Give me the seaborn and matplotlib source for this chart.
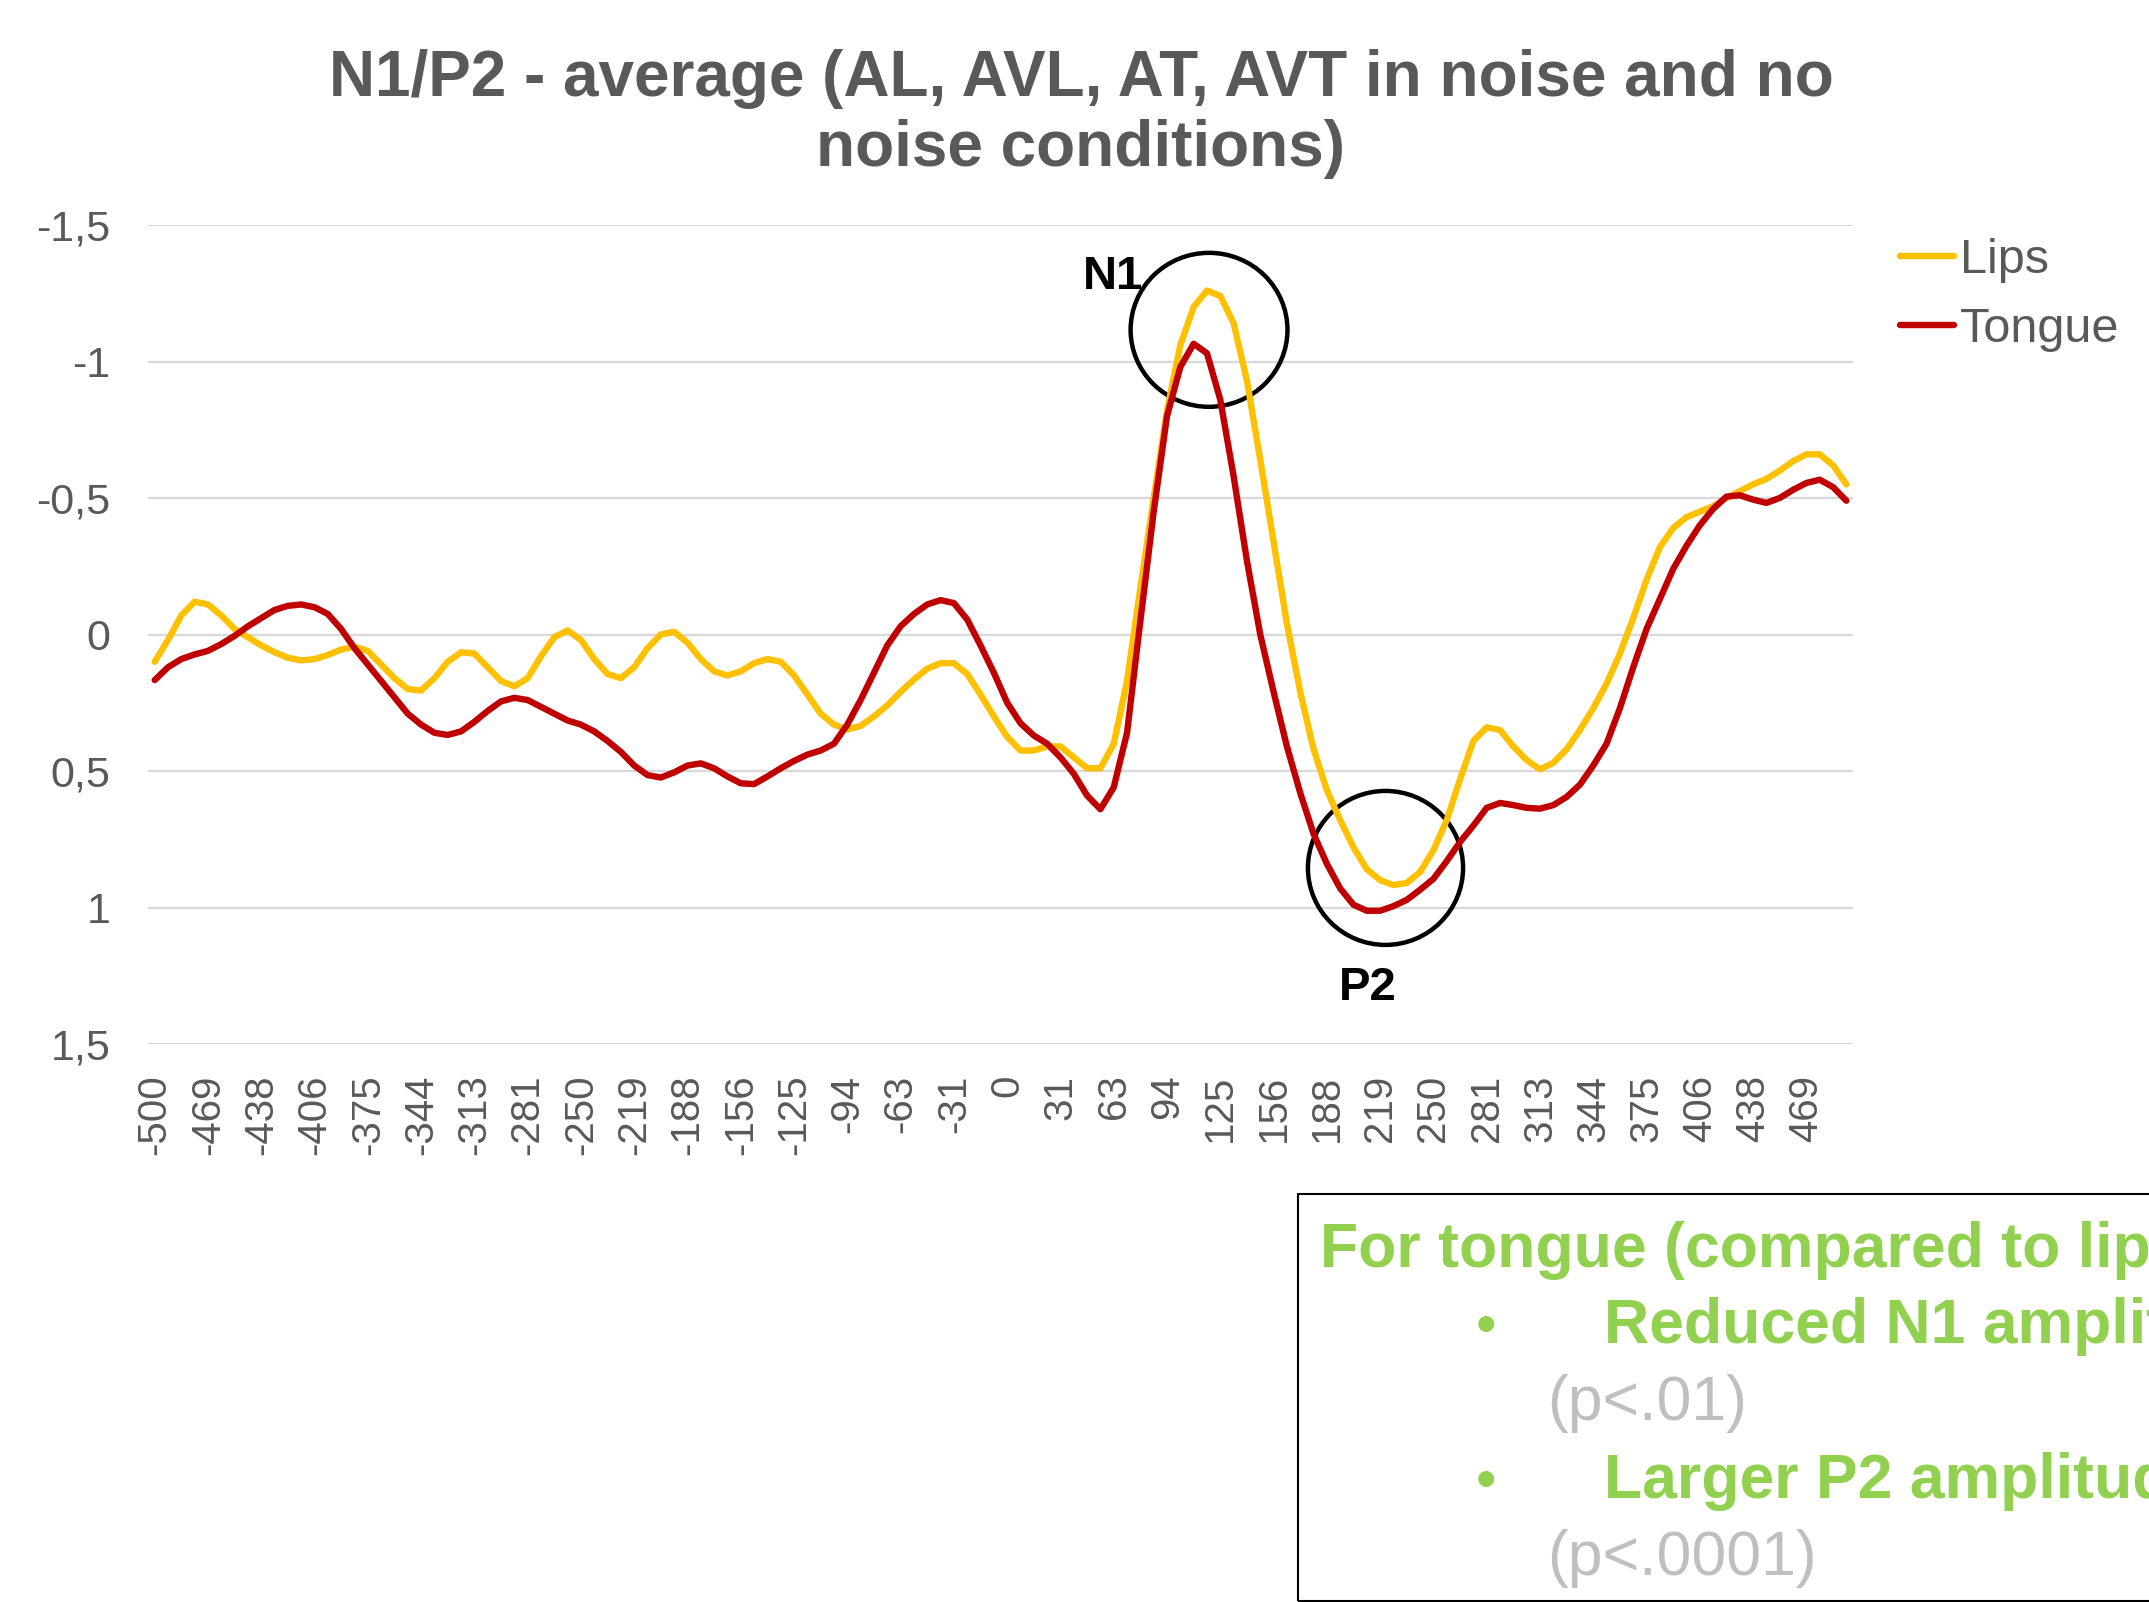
import pandas as pd
import numpy as np
import seaborn as sns
import matplotlib.pyplot as plt
from matplotlib.patches import Ellipse, Rectangle

# epoch samples (ms), one every 7.8125 ms from -500
times = [-500 + 7.8125 * i for i in range(128)]

lips = [
    0.10, 0.02, -0.07, -0.12, -0.11, -0.07, -0.02, 0.01,
    0.04, 0.065, 0.085, 0.095, 0.09, 0.075, 0.055, 0.045,
    0.06, 0.11, 0.16, 0.20, 0.205, 0.16, 0.10, 0.065,
    0.07, 0.12, 0.17, 0.19, 0.16, 0.08, 0.01, -0.015,
    0.02, 0.09, 0.145, 0.16, 0.12, 0.05, 0.0, -0.01,
    0.03, 0.09, 0.135, 0.15, 0.135, 0.105, 0.09, 0.10,
    0.15, 0.22, 0.29, 0.33, 0.348, 0.335, 0.30, 0.26,
    0.21, 0.165, 0.125, 0.105, 0.105, 0.145, 0.22, 0.30,
    0.375, 0.425, 0.425, 0.41, 0.41, 0.45, 0.49, 0.49,
    0.40, 0.17, -0.17, -0.50, -0.82, -1.06, -1.20, -1.26,
    -1.24, -1.14, -0.93, -0.64, -0.34, -0.04, 0.21, 0.42,
    0.57, 0.68, 0.78, 0.86, 0.90, 0.918, 0.91, 0.87,
    0.79, 0.68, 0.53, 0.39, 0.34, 0.35, 0.41, 0.46,
    0.494, 0.47, 0.42, 0.35, 0.27, 0.18, 0.07, -0.06,
    -0.20, -0.32, -0.39, -0.43, -0.45, -0.47, -0.50, -0.525,
    -0.55, -0.57, -0.60, -0.635, -0.66, -0.66, -0.62, -0.55,
]

tongue = [
    0.167, 0.12, 0.09, 0.073, 0.06, 0.035, 0.005, -0.03,
    -0.06, -0.09, -0.105, -0.11, -0.10, -0.075, -0.02, 0.05,
    0.11, 0.17, 0.23, 0.29, 0.33, 0.36, 0.368, 0.355,
    0.32, 0.28, 0.245, 0.232, 0.24, 0.265, 0.29, 0.315,
    0.33, 0.355, 0.39, 0.43, 0.48, 0.515, 0.524, 0.505,
    0.48, 0.472, 0.49, 0.52, 0.545, 0.548, 0.52, 0.49,
    0.463, 0.44, 0.425, 0.40, 0.33, 0.24, 0.14, 0.04,
    -0.03, -0.075, -0.11, -0.126, -0.115, -0.055, 0.04, 0.14,
    0.25, 0.325, 0.37, 0.40, 0.45, 0.51, 0.59, 0.64,
    0.56, 0.36, -0.05, -0.45, -0.80, -0.98, -1.065, -1.03,
    -0.86, -0.58, -0.27, 0.0, 0.21, 0.41, 0.58, 0.73,
    0.84, 0.93, 0.99, 1.012, 1.012, 0.995, 0.972, 0.935,
    0.895, 0.83, 0.76, 0.70, 0.635, 0.617, 0.625, 0.635,
    0.638, 0.625, 0.595, 0.55, 0.48, 0.40, 0.27, 0.12,
    -0.02, -0.13, -0.24, -0.325, -0.40, -0.46, -0.505, -0.51,
    -0.494, -0.482, -0.50, -0.53, -0.555, -0.567, -0.54, -0.49,
]

series_names = ["Lips", "Tongue"]
series_colors = ["#FFC000", "#C00000"]

x_tick_labels = ["-500", "-469", "-438", "-406", "-375", "-344", "-313", "-281",
                 "-250", "-219", "-188", "-156", "-125", "-94", "-63", "-31",
                 "0", "31", "63", "94", "125", "156", "188", "219",
                 "250", "281", "313", "344", "375", "406", "438", "469"]
y_ticks = [-1.5, -1, -0.5, 0, 0.5, 1, 1.5]
y_tick_labels = ["-1,5", "-1", "-0,5", "0", "0,5", "1", "1,5"]

W, H = 2149, 1602


def fx(px):
    return px / W


def fy(py):
    return 1 - py / H


sns.set_style("white")
plt.rcParams["font.family"] = ["Liberation Sans", "DejaVu Sans"]

df = pd.DataFrame({
    "time": times * 2,
    "amp": lips + tongue,
    "cond": [series_names[0]] * len(lips) + [series_names[1]] * len(tongue),
})

fig = plt.figure(figsize=(W / 100, H / 100), dpi=100)
ax = fig.add_axes([fx(148), fy(1044), (1853 - 148) / W, (1044 - 225) / H])

sns.lineplot(data=df, x="time", y="amp", hue="cond", hue_order=series_names,
             palette=dict(zip(series_names, series_colors)),
             linewidth=4.6, ax=ax, legend=False)
for ln in ax.lines:
    ln.set_solid_joinstyle("round")
    ln.set_solid_capstyle("round")

half = 7.8125 / 2
ax.set_xlim(times[0] - half, times[-1] + half)
ax.set_ylim(1.5, -1.5)
ax.set_xticks(times[::4])
ax.set_xticklabels(x_tick_labels, rotation=90, fontsize=29, color="#595959")
ax.set_yticks(y_ticks)
ax.set_yticklabels(y_tick_labels, fontsize=31, color="#595959")
ax.tick_params(axis="both", length=0)
ax.tick_params(axis="y", pad=27)
ax.tick_params(axis="x", pad=22)
ax.set_xlabel("")
ax.set_ylabel("")
ax.grid(axis="y", color="#D9D9D9", linewidth=1.6)
ax.grid(axis="x", visible=False)
for s in ax.spines.values():
    s.set_visible(False)

# N1 / P2 circles
ax.add_patch(Ellipse((118.4, -1.116), width=92, height=0.564, fill=False,
                     edgecolor="black", linewidth=3.2, clip_on=False))
ax.add_patch(Ellipse((221.9, 0.855), width=91, height=0.564, fill=False,
                     edgecolor="black", linewidth=3.2, clip_on=False))
fig.text(fx(1083), fy(289), "N1", fontsize=34, fontweight="bold", color="black")
fig.text(fx(1339), fy(1000), "P2", fontsize=34, fontweight="bold", color="black")

fig.text(fx(1081), fy(114),
         "N1/P2 - average (AL, AVL, AT, AVT in noise and no\nnoise conditions)",
         ha="center", va="center", fontsize=46, fontweight="bold",
         color="#595959", linespacing=1.2)

fig.legend(handles=ax.lines[:2], labels=series_names, loc="upper left",
           bbox_to_anchor=(fx(1900), fy(238)), frameon=False, fontsize=35,
           handlelength=1.12, handletextpad=0.12, labelspacing=0.5,
           borderpad=0, borderaxespad=0, labelcolor="#595959")

# summary box
fig.patches.append(Rectangle((fx(1298), fy(1601)), 0.6, (1601 - 1194) / H,
                             transform=fig.transFigure, fill=False,
                             edgecolor="black", linewidth=1.5))
green = "#92D050"
grey = "#BFBFBF"
fig.text(fx(1320), fy(1267), "For tongue (compared to lips):", fontsize=45,
         fontweight="bold", color=green)
fig.text(fx(1486), fy(1343), "\u2022", fontsize=42, color=green, ha="center")
fig.text(fx(1604), fy(1343), "Reduced N1 amplitude", fontsize=45,
         fontweight="bold", color=green)
fig.text(fx(1547), fy(1420), "(p<.01)", fontsize=45, color=grey)
fig.text(fx(1486), fy(1498), "\u2022", fontsize=42, color=green, ha="center")
fig.text(fx(1604), fy(1498), "Larger P2 amplitude", fontsize=45,
         fontweight="bold", color=green)
fig.text(fx(1547), fy(1575), "(p<.0001)", fontsize=45, color=grey)

fig.savefig("out.png", dpi=100)
